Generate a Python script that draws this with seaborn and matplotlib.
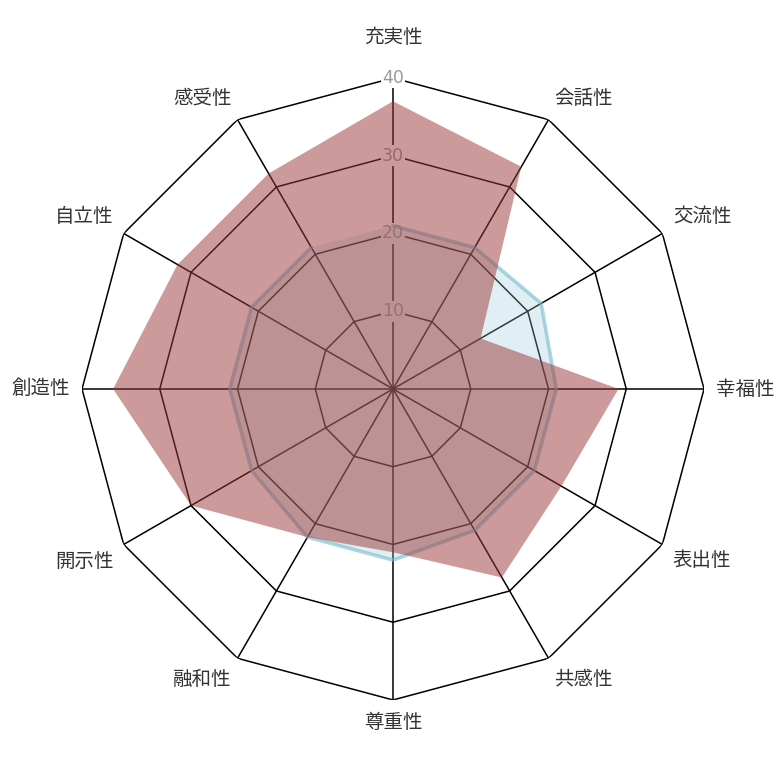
import numpy as np
import matplotlib
matplotlib.use("Agg")
import matplotlib.pyplot as plt
import seaborn as sns

categories = ['充実性', '会話性', '交流性', '幸福性', '表出性', '共感性',
              '尊重性', '融和性', '開示性', '創造性', '自立性', '感受性']
red_values = [37, 33, 13, 29, 25, 28, 21, 22, 30, 36, 32, 32]
blue_values = [21, 21, 22, 21, 21, 21, 22, 22, 21, 21, 21, 21]
ticks = [10, 20, 30, 40]

sns.set_theme(style="white")
plt.rcParams['font.family'] = ['Noto Sans CJK JP', 'DejaVu Sans']

n = len(categories)
angles = np.linspace(0, 2 * np.pi, n, endpoint=False)
closed = np.append(angles, angles[0])


def close(vals):
    return np.append(vals, vals[0])


fig = plt.figure(figsize=(7.84, 7.62), dpi=100)
# axes box: 622 px square around the chart centre
ax = fig.add_axes([0.1046, 0.0814, 0.7934, 0.8163], projection='polar')
ax.set_theta_offset(np.pi / 2)
ax.set_theta_direction(-1)
ax.set_ylim(0, 40)
ax.grid(False)
ax.spines['polar'].set_visible(False)
ax.set_xticks([])
ax.set_yticks([])
ax.set_facecolor('white')

# polygon grid + spokes
for t in ticks:
    ax.plot(closed, [t] * (n + 1), color='black', lw=1.1, zorder=1)
for a in angles:
    ax.plot([a, a], [0, ticks[-1]], color='black', lw=1.1, zorder=1)

# scale labels on the top spoke
for t in ticks:
    ax.text(0, t, str(t), ha='center', va='center', fontsize=12.5,
            color='#9a9a9a', zorder=2, family='DejaVu Sans',
            bbox=dict(facecolor='white', edgecolor='none', pad=1.0))

# blue series
ax.fill(closed, close(blue_values), color=(151 / 255, 204 / 255, 220 / 255),
        alpha=0.3, lw=0, zorder=3)
sns.lineplot(x=closed, y=close(blue_values), ax=ax, sort=False,
             color=(120 / 255, 185 / 255, 205 / 255), alpha=0.6, lw=2.6,
             zorder=4)

# red series
ax.fill(closed, close(red_values), color='#9b3737', alpha=0.5, lw=0, zorder=5)

# category labels
for a, lab in zip(angles, categories):
    s, c = np.sin(a), np.cos(a)
    dx, dy = 12 * s, 12 * c
    if c > 0.99:
        dy += 18
    if abs(s) < 0.01:
        ha = 'center'
    else:
        ha = 'left' if s > 0 else 'right'
    if abs(c) < 0.01:
        va = 'center'
    else:
        va = 'bottom' if c > 0 else 'top'
    ax.annotate(lab, xy=(a, 40), xytext=(dx, dy), textcoords='offset pixels',
                ha=ha, va=va, fontsize=14, color='#333333',
                annotation_clip=False)

fig.savefig('out.png', dpi=100, facecolor='white')
